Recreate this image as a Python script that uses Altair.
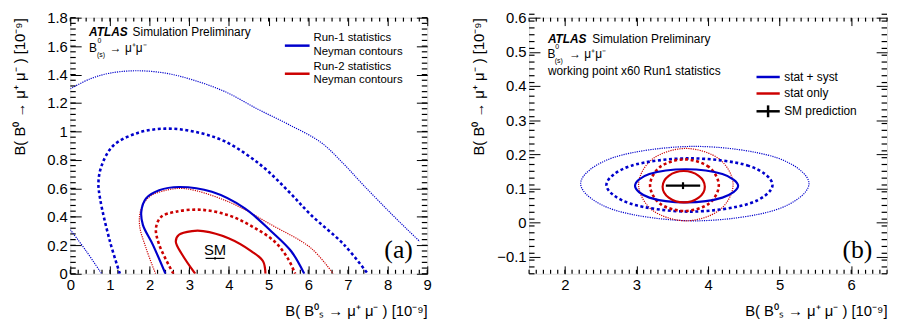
import altair as alt
import pandas as pd

# ---------------- data (units of 1e-9) ----------------
a_r1_1s_x = [2.4, 2.08, 1.83, 1.79, 1.91, 2.24, 2.74, 3.57, 4.4, 5.07, 5.57, 5.9]
a_r1_1s_y = [0, 0.205, 0.344, 0.436, 0.53, 0.587, 0.61, 0.576, 0.46, 0.297, 0.158, 0]
a_r1_2s_x = [1.25, 1.0, 0.75, 0.71, 0.79, 1.08, 1.7, 2.4, 3.1, 3.9, 4.82, 5.5, 6.07, 6.9, 7.5]
a_r1_2s_y = [0, 0.227, 0.53, 0.645, 0.76, 0.90, 0.99, 1.02, 1.0, 0.93, 0.76, 0.58, 0.413, 0.205, 0]
a_r1_3s_x = [0, 0.5, 1.0, 1.66, 2.4, 3.07, 3.9, 4.74, 5.5, 6.32, 6.9, 7.4, 8.1, 8.5, 8.81]
a_r1_3s_y = [1.30, 1.37, 1.41, 1.427, 1.41, 1.364, 1.28, 1.155, 1.05, 0.923, 0.77, 0.62, 0.42, 0.31, 0.227]
a_r1_3s_low_x = [0, 0.4, 0.79]
a_r1_3s_low_y = [0.31, 0.16, 0]
a_r2_1s_x = [3.15, 2.82, 2.66, 2.74, 3.07, 3.35, 3.99, 4.57, 4.86, 4.92]
a_r2_1s_y = [0, 0.135, 0.227, 0.274, 0.30, 0.30, 0.25, 0.158, 0.088, 0]
a_r2_2s_x = [2.6, 2.24, 2.16, 2.29, 2.66, 3.3, 4.0, 4.6, 5.15, 5.48, 5.67]
a_r2_2s_y = [0, 0.205, 0.32, 0.40, 0.436, 0.45, 0.41, 0.33, 0.227, 0.11, 0]
a_r2_3s_x = [2.15, 1.91, 1.745, 1.79, 1.99, 2.41, 2.9, 3.99, 5.07, 6.07, 6.63]
a_r2_3s_y = [0, 0.18, 0.344, 0.46, 0.54, 0.587, 0.598, 0.506, 0.344, 0.18, 0]

b_ss_1s_x = [4.42, 4.2, 3.69, 3.18, 2.98, 3.18, 3.69, 4.2]
b_ss_1s_y = [0.1075, 0.142, 0.156, 0.142, 0.1075, 0.073, 0.059, 0.073]
b_ss_2s_x = [4.90, 4.569, 3.745, 2.921, 2.58, 2.921, 3.745, 4.569]
b_ss_2s_y = [0.110, 0.166, 0.188, 0.166, 0.110, 0.055, 0.032, 0.055]
b_ss_3s_x = [5.41, 4.943, 3.815, 2.687, 2.22, 2.687, 3.815, 4.943]
b_ss_3s_y = [0.114, 0.191, 0.223, 0.191, 0.114, 0.037, 0.005, 0.037]
b_st_1s_x = [3.955, 3.869, 3.66, 3.451, 3.365, 3.451, 3.66, 3.869]
b_st_1s_y = [0.105, 0.137, 0.151, 0.137, 0.105, 0.073, 0.059, 0.073]
b_st_2s_x = [4.15, 4.01, 3.67, 3.33, 3.19, 3.33, 3.67, 4.01]
b_st_2s_y = [0.109, 0.163, 0.185, 0.163, 0.109, 0.055, 0.034, 0.055]
b_st_3s_x = [4.35, 4.157, 3.69, 3.223, 3.03, 3.223, 3.69, 4.157]
b_st_3s_y = [0.111, 0.186, 0.217, 0.186, 0.111, 0.036, 0.005, 0.036]

sm_x = [3.65]
sm_xlo = [3.41]
sm_xhi = [3.89]
sm_y = [0.108]
sm_ylo = [0.098]
sm_yhi = [0.118]

a_x_major = [0, 1, 2, 3, 4, 5, 6, 7, 8, 9]
a_y_major = [0, 0.2, 0.4, 0.6, 0.8, 1.0, 1.2, 1.4, 1.6, 1.8]
b_x_major = [2, 3, 4, 5, 6]
b_y_major = [-0.1, 0, 0.1, 0.2, 0.3, 0.4, 0.5, 0.6]

FONT = "Liberation Sans"
BLUE = "#0000cc"
RED = "#cc0000"
STYLES = {"solid": (2.2, None), "dashed": (2.6, [3, 2.6]), "dotted": (1.2, [1.2, 1.1])}
W, H = 361, 259
A_XDOM, A_YDOM = [0, 9], [0, 1.8]
B_XDOM, B_YDOM = [1.5, 6.5], [-0.15, 0.6]
XT, YT = 8, 11          # major tick lengths (px), drawn inward


def frange(a, b, step):
    n = int(round((b - a) / step))
    return [round(a + i * step, 6) for i in range(n + 1)]


def make_enc(xdom, ydom, xmaj, ymaj):
    xs = alt.Scale(domain=xdom, nice=False, zero=False)
    ys = alt.Scale(domain=ydom, nice=False, zero=False)
    tk = dict(ticks=True, tickColor="black", tickWidth=1, domain=False, grid=False,
              labelOverlap=False, labelFlush=False)
    # labelled axes, shifted inward by the tick length so ticks point into the frame
    xa = alt.Axis(values=xmaj, format="~g", orient="bottom", tickSize=XT, offset=-XT,
                  labelFont=FONT, labelFontSize=15, labelColor="black", labelPadding=4,
                  title="B( B⁰ₛ → μ⁺ μ⁻ ) [10⁻⁹]", titleFont=FONT, titleFontSize=15,
                  titleFontWeight="normal", titleColor="black", titleAnchor="end",
                  titleBaseline="middle", titleY=37 + XT, **tk)
    ya = alt.Axis(values=ymaj, format="~g", orient="left", tickSize=YT, offset=-YT,
                  labelFont=FONT, labelFontSize=15, labelColor="black", labelPadding=3,
                  title="B( B⁰ → μ⁺ μ⁻ ) [10⁻⁹]", titleFont=FONT, titleFontSize=15,
                  titleFontWeight="normal", titleColor="black", titleAnchor="end",
                  titleBaseline="middle", titleX=-51 - YT, **tk)
    # tick-only axes on the opposite sides
    xt = alt.Axis(values=xmaj, orient="top", tickSize=XT, offset=-XT, labels=False,
                  title="", **tk)
    yt = alt.Axis(values=ymaj, orient="right", tickSize=YT, offset=-YT, labels=False,
                  title="", **tk)
    axes_x = {"main": xa, "opp": xt}
    axes_y = {"main": ya, "opp": yt}

    def X(f="x", kind=None):
        if kind in axes_x:
            return alt.X(f + ":Q", scale=xs, axis=axes_x[kind])
        return alt.X(f + ":Q", scale=xs, axis=None)

    def Y(f="y", kind=None):
        if kind in axes_y:
            return alt.Y(f + ":Q", scale=ys, axis=axes_y[kind])
        return alt.Y(f + ":Q", scale=ys, axis=None)

    return X, Y


def contour(xs, ys, color, style, X, Y, closed=False):
    df = pd.DataFrame({"x": xs, "y": ys, "o": list(range(len(xs)))})
    w, dash = STYLES[style]
    kw = dict(color=color, strokeWidth=w, clip=True,
              interpolate="cardinal-closed" if closed else "catmull-rom")
    if dash:
        kw["strokeDash"] = dash
    return alt.Chart(df).mark_line(**kw).encode(x=X(), y=Y(), order="o:Q")


def minor_ticks(X, Y, xdom, ydom, xmaj, xstep, ymaj, ystep, w, h):
    """Minor inward frame ticks as short two-point segments."""
    ux = (xdom[1] - xdom[0]) / w
    uy = (ydom[1] - ydom[0]) / h
    rows, k = [], 0
    for v in frange(xdom[0], xdom[1], xstep):
        for a, b in ((ydom[0], ydom[0] + 4 * uy), (ydom[1], ydom[1] - 4 * uy)):
            rows += [{"x": v, "y": a, "g": k, "o": 0}, {"x": v, "y": b, "g": k, "o": 1}]
            k += 1
    for v in frange(ydom[0], ydom[1], ystep):
        for a, b in ((xdom[0], xdom[0] + 5.5 * ux), (xdom[1], xdom[1] - 5.5 * ux)):
            rows += [{"y": v, "x": a, "g": k, "o": 0}, {"y": v, "x": b, "g": k, "o": 1}]
            k += 1
    return [alt.Chart(pd.DataFrame(rows)).mark_line(color="black", strokeWidth=1.2).encode(
        x=X(), y=Y(), detail="g:N", order="o:Q")]


def txt(s, x, y, size=12, **kw):
    props = dict(text=s, font=FONT, fontSize=size, align="left", baseline="middle",
                 color="black")
    props.update(kw)
    return alt.Chart(pd.DataFrame({"a": [0]})).mark_text(**props).encode(
        x=alt.value(x), y=alt.value(y))


def seg(x1, x2, y, color, width=2.5):
    return alt.Chart(pd.DataFrame({"a": [0]})).mark_rule(color=color, strokeWidth=width).encode(
        x=alt.value(x1), x2=alt.value(x2), y=alt.value(y))


def vseg(x, y1, y2, color, width=2.5):
    return alt.Chart(pd.DataFrame({"a": [0]})).mark_rule(color=color, strokeWidth=width).encode(
        x=alt.value(x), y=alt.value(y1), y2=alt.value(y2))


def sm_layers(X, Y, width, with_label):
    """SM point with error bars; these two layers also carry the four axes."""
    df = pd.DataFrame({"x": sm_x, "xlo": sm_xlo, "xhi": sm_xhi,
                       "y": sm_y, "ylo": sm_ylo, "yhi": sm_yhi})
    base = alt.Chart(df)
    ls = [
        base.mark_rule(color="black", strokeWidth=width).encode(
            x=X("xlo", "main"), x2="xhi:Q", y=Y("y", "main")),
        base.mark_rule(color="black", strokeWidth=width).encode(
            x=X("x", "opp"), y=Y("ylo", "opp"), y2="yhi:Q"),
    ]
    if with_label:
        ls.append(base.mark_text(text="SM", font=FONT, fontSize=15, baseline="middle",
                                 dy=-8, color="black").encode(x=X(), y=Y()))
    return ls


# ---------------- panel (a) ----------------
aX, aY = make_enc(A_XDOM, A_YDOM, a_x_major, a_y_major)
a_layers = sm_layers(aX, aY, 1.2, True)
a_layers += minor_ticks(aX, aY, A_XDOM, A_YDOM, a_x_major, 0.2, a_y_major, 0.04, W, H)
a_layers += [
    contour(a_r1_3s_x, a_r1_3s_y, BLUE, "dotted", aX, aY),
    contour(a_r1_3s_low_x, a_r1_3s_low_y, BLUE, "dotted", aX, aY),
    contour(a_r1_2s_x, a_r1_2s_y, BLUE, "dashed", aX, aY),
    contour(a_r2_3s_x, a_r2_3s_y, RED, "dotted", aX, aY),
    contour(a_r1_1s_x, a_r1_1s_y, BLUE, "solid", aX, aY),
    contour(a_r2_2s_x, a_r2_2s_y, RED, "dashed", aX, aY),
    contour(a_r2_1s_x, a_r2_1s_y, RED, "solid", aX, aY),
]
a_layers += [
    txt("ATLAS", 19, 15, 12, fontStyle="italic", fontWeight="bold"),
    txt("Simulation Preliminary", 63, 15, 12),
    txt("B", 19, 31, 12),
    txt("0", 27.5, 24, 7),
    txt("(s)", 27, 38, 7),
    txt("→ μ⁺μ⁻", 40, 31, 12),
    seg(217, 242, 28.3, BLUE),
    txt("Run-1 statistics", 246, 20.5, 11.5),
    txt("Neyman contours", 246, 34.3, 11.5),
    seg(217, 242, 56.7, RED),
    txt("Run-2 statistics", 246, 50.3, 11.5),
    txt("Neyman contours", 246, 63.5, 11.5),
    txt("(a)", 332, 235, 26, font="Liberation Serif", align="center"),
]
panel_a = (alt.layer(*a_layers).properties(width=W, height=H)
           .resolve_axis(x="independent", y="independent"))

# ---------------- panel (b) ----------------
bX, bY = make_enc(B_XDOM, B_YDOM, b_x_major, b_y_major)
b_layers = sm_layers(bX, bY, 2.2, False)
b_layers += minor_ticks(bX, bY, B_XDOM, B_YDOM, b_x_major, 0.1, b_y_major, 0.02, W + 1, H)
b_layers += [
    contour(b_ss_3s_x, b_ss_3s_y, BLUE, "dotted", bX, bY, True),
    contour(b_st_3s_x, b_st_3s_y, RED, "dotted", bX, bY, True),
    contour(b_ss_2s_x, b_ss_2s_y, BLUE, "dashed", bX, bY, True),
    contour(b_st_2s_x, b_st_2s_y, RED, "dashed", bX, bY, True),
    contour(b_ss_1s_x, b_ss_1s_y, BLUE, "solid", bX, bY, True),
    contour(b_st_1s_x, b_st_1s_y, RED, "solid", bX, bY, True),
]
b_layers += [
    txt("ATLAS", 19, 21.7, 12, fontStyle="italic", fontWeight="bold"),
    txt("Simulation Preliminary", 64, 21.7, 12),
    txt("B", 18.5, 36.7, 12),
    txt("0", 26.5, 30, 7),
    txt("(s)", 26, 43.5, 7),
    txt("→ μ⁺μ⁻", 40.5, 36.7, 12),
    txt("working point x60 Run1 statistics", 19, 53.5, 12),
    seg(230, 253.5, 60, BLUE),
    txt("stat + syst", 258, 60, 12),
    seg(230, 253.5, 76.7, RED),
    txt("stat only", 258, 76.7, 12),
    seg(230, 253.5, 94.7, "black"),
    vseg(241.7, 88.7, 100.7, "black"),
    txt("SM prediction", 258, 94.7, 12),
    txt("(b)", 332, 235, 26, font="Liberation Serif", align="center"),
]
panel_b = (alt.layer(*b_layers).properties(width=W + 1, height=H)
           .resolve_axis(x="independent", y="independent"))

chart = (
    alt.hconcat(panel_a, panel_b, spacing=103, bounds="flush")
    .properties(padding={"left": 4, "top": 0, "right": 0, "bottom": 0})
    .configure_view(stroke="black", strokeWidth=1)
    .configure(background="white")
)

chart.save("out.html", embed_options={"renderer": "svg", "actions": False})
